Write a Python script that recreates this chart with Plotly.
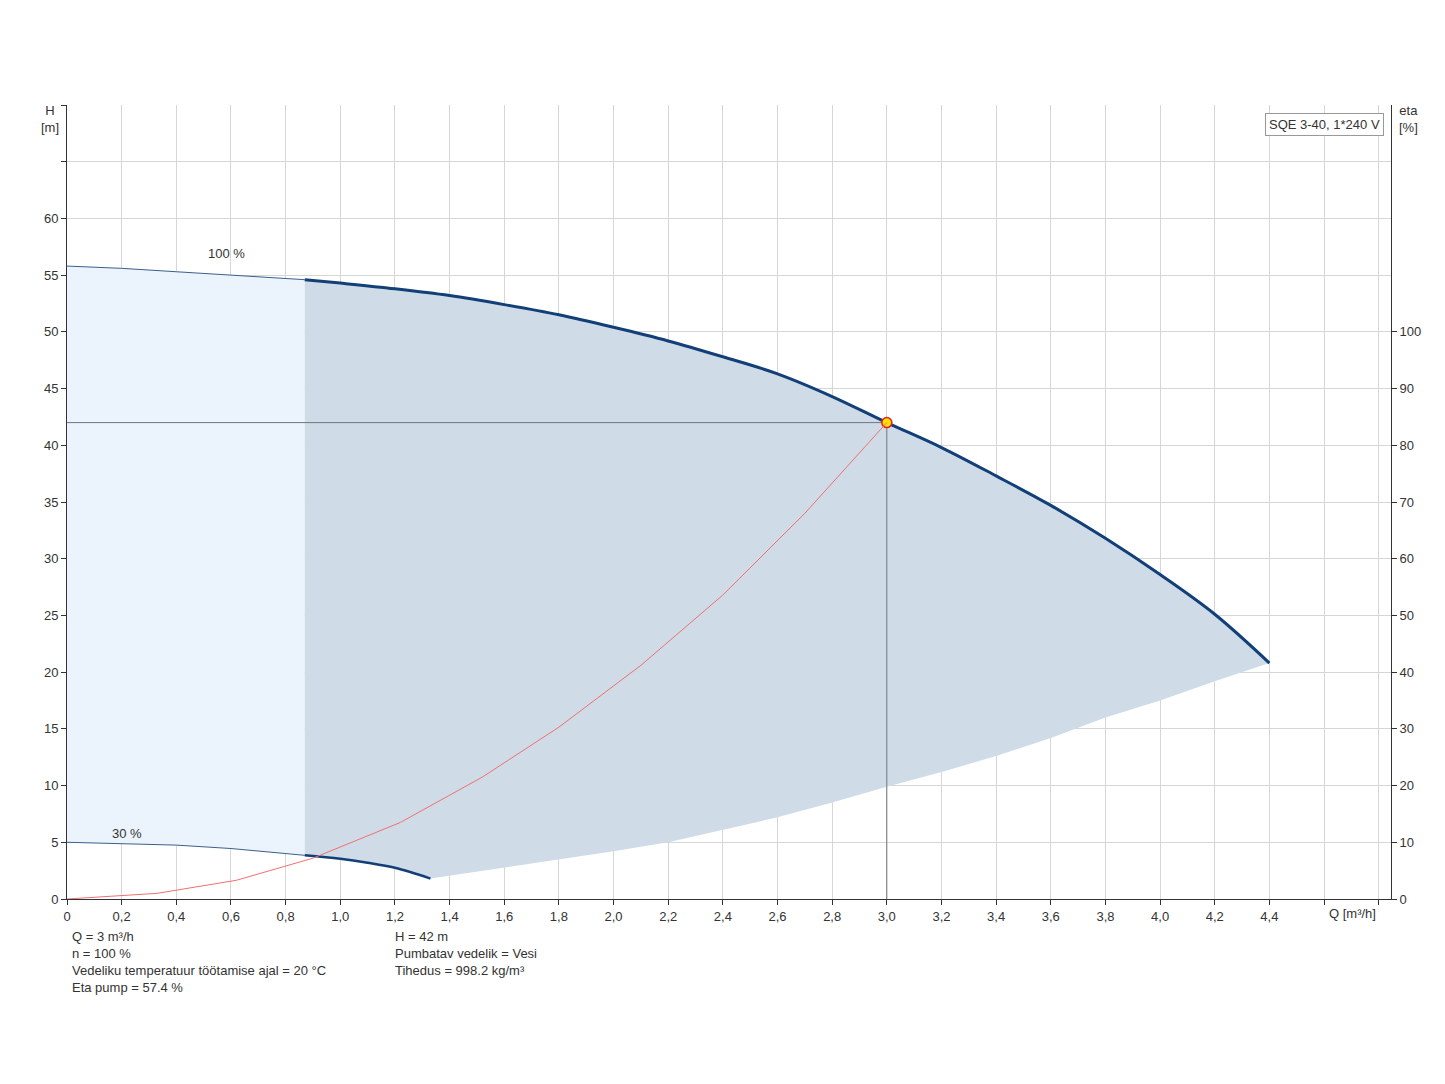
import plotly.graph_objects as go

q100 = [0, 0.2, 0.4, 0.6, 0.87, 1.0, 1.2, 1.4, 1.6, 1.8, 2.0, 2.2, 2.4, 2.6, 2.8, 3.0, 3.2, 3.4, 3.6, 3.8, 4.0, 4.2, 4.4]
h100 = [55.8, 55.6, 55.3, 55.0, 54.6, 54.3, 53.8, 53.2, 52.4, 51.5, 50.4, 49.2, 47.8, 46.3, 44.3, 42.0, 39.8, 37.3, 34.7, 31.8, 28.6, 25.1, 20.8]
q30 = [0, 0.2, 0.4, 0.6, 0.87, 1.0, 1.1, 1.2, 1.33]
h30 = [5.0, 4.9, 4.75, 4.45, 3.85, 3.55, 3.2, 2.75, 1.8]
qlow = [1.33, 1.6, 1.8, 2.0, 2.2, 2.4, 2.6, 2.8, 3.0, 3.2, 3.4, 3.6, 3.8, 4.0, 4.2, 4.4]
hlow = [1.8, 2.8, 3.5, 4.2, 5.0, 6.1, 7.2, 8.5, 9.9, 11.2, 12.6, 14.2, 16.0, 17.5, 19.2, 20.8]
qeta = [0, 0.15, 0.33, 0.62, 0.9, 1.22, 1.52, 1.8, 2.1, 2.4, 2.7, 3.0]
eta = [0, 0.4, 1.0, 3.3, 7.2, 13.5, 21.5, 30.3, 41.2, 53.6, 68.0, 84.0]
duty_q, duty_h = 3.0, 42.0
xticks = [round(0.2 * i, 1) for i in range(23)]
xlabels = ["0"] + [f"{v:.1f}".replace(".", ",") for v in xticks[1:]]

split = 4  # index of 0.87
fig = go.Figure()
# light region 0..0.87
lx = q100[:split + 1] + q30[:split + 1][::-1]
ly = h100[:split + 1] + h30[:split + 1][::-1]
fig.add_trace(go.Scatter(x=lx, y=ly, fill="toself", fillcolor="#ebf4fd", line=dict(width=0), mode="lines", hoverinfo="skip"))
# dark region
dx = q100[split:] + qlow[::-1] + q30[split:][::-1]
dy = h100[split:] + hlow[::-1] + h30[split:][::-1]
fig.add_trace(go.Scatter(x=dx, y=dy, fill="toself", fillcolor="#cfdce8", line=dict(width=0), mode="lines", hoverinfo="skip"))
# curves
fig.add_trace(go.Scatter(x=q100[:split + 1], y=h100[:split + 1], mode="lines", line=dict(color="#3c5f8a", width=1)))
fig.add_trace(go.Scatter(x=q100[split:], y=h100[split:], mode="lines", line=dict(color="#123f78", width=3, shape="spline")))
fig.add_trace(go.Scatter(x=q30[:split + 1], y=h30[:split + 1], mode="lines", line=dict(color="#3c5f8a", width=1)))
fig.add_trace(go.Scatter(x=q30[split:], y=h30[split:], mode="lines", line=dict(color="#123f78", width=2.5, shape="spline")))
# duty lines
fig.add_trace(go.Scatter(x=[0, duty_q, duty_q], y=[duty_h, duty_h, 0], mode="lines", line=dict(color="#707780", width=1)))
# eta
fig.add_trace(go.Scatter(x=qeta, y=eta, yaxis="y2", mode="lines", line=dict(color="#f07070", width=1)))
fig.add_trace(go.Scatter(x=[duty_q], y=[duty_h], mode="markers", marker=dict(color="#ffe000", size=10, line=dict(color="#e02020", width=1.5))))

font = dict(family="Liberation Sans, Arial", size=13, color="#333")
fig.update_layout(
    width=1445, height=1084, showlegend=False, plot_bgcolor="white", paper_bgcolor="white",
    margin=dict(l=59, r=62, t=97, b=193), font=font,
    xaxis=dict(range=[0, 4.845], tickvals=xticks + [4.6, 4.8], ticktext=xlabels + ["", ""],
               showgrid=True, gridcolor="#d6d6d6", ticks="outside", ticklen=5, tickcolor="#333",
               showline=True, linecolor="#333", zeroline=False, mirror=False),
    yaxis=dict(range=[0, 70], tickvals=list(range(0, 75, 5)),
               ticktext=[str(v) for v in range(0, 65, 5)] + ["", ""],
               showgrid=True, gridcolor="#d6d6d6", ticks="outside", ticklen=5, tickcolor="#333",
               showline=True, linecolor="#333", zeroline=False),
    yaxis2=dict(range=[0, 140], overlaying="y", side="right", tickvals=list(range(0, 110, 10)),
                showgrid=False, ticks="outside", ticklen=5, tickcolor="#333",
                showline=True, linecolor="#333", zeroline=False),
)
ann = [
    dict(x=-0.013, y=1.005, text="H<br>[m]", xanchor="center", yanchor="top", xref="paper", yref="paper"),
    dict(x=1.013, y=1.005, text="eta<br>[%]", xanchor="center", yanchor="top", xref="paper", yref="paper"),
    dict(x=4.61, y=68.3, text="Q [m³/h]", xanchor="left", yanchor="middle", xref="x", yref="paper", showarrow=False),
    dict(x=0.585, y=56.9, text="100 %", xref="x", yref="y"),
    dict(x=0.22, y=5.8, text="30 %", xref="x", yref="y"),
    dict(x=0.995, y=0.99, text="SQE 3-40, 1*240 V", xanchor="right", yanchor="top", xref="paper", yref="paper",
         bordercolor="#999", borderwidth=1, borderpad=3, bgcolor="white"),
    dict(x=0.002, y=-0.035, text="Q = 3 m³/h<br>n = 100 %<br>Vedeliku temperatuur töötamise ajal = 20 °C<br>Eta pump = 57.4 %",
         xanchor="left", yanchor="top", xref="paper", yref="paper", align="left"),
    dict(x=0.246, y=-0.035, text="H = 42 m<br>Pumbatav vedelik = Vesi<br>Tihedus = 998.2 kg/m³",
         xanchor="left", yanchor="top", xref="paper", yref="paper", align="left"),
]
for a in ann:
    a.setdefault("showarrow", False)
fig.update_layout(annotations=ann)
fig.layout.annotations[2].update(y=-0.018, yref="paper")
fig.write_html("out.html")
